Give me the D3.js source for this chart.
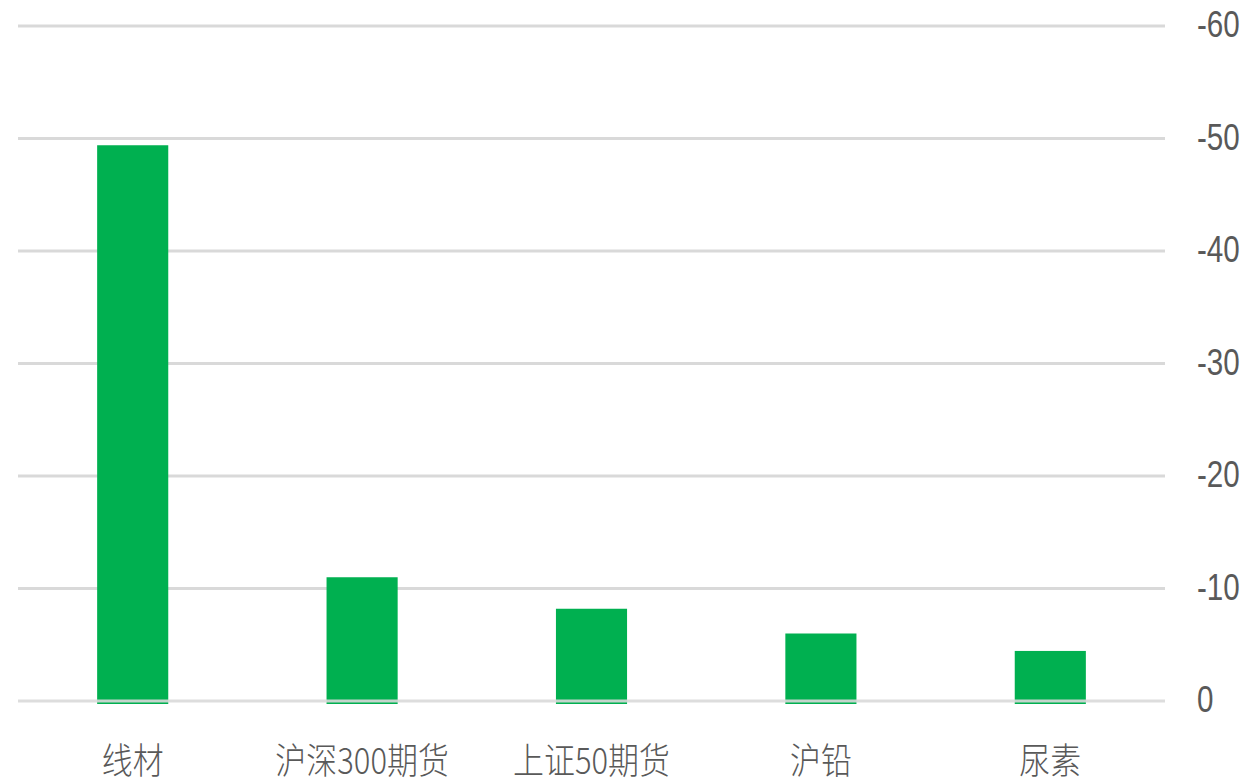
<!DOCTYPE html>
<html><head><meta charset="utf-8">
<script src="https://cdn.jsdelivr.net/npm/d3@7"></script>
<style>html,body{margin:0;padding:0;background:#fff;}svg{display:block;}</style>
</head><body>
<svg id="chart" width="1247" height="784"></svg>
<script>
const categories = ["线材", "沪深300期货", "上证50期货", "沪铅", "尿素"];
const values = [-49.4, -11.0, -8.2, -6.0, -4.45];
const tickValues = [0, -10, -20, -30, -40, -50, -60];

const svg = d3.select("#chart");
const x = d3.scaleBand().domain(categories).range([18, 1165]).paddingInner(0.69).paddingOuter(0.345);
const y = d3.scaleLinear().domain([0, -60]).range([701, 26]);

// gridlines behind bars (except zero line)
svg.append("g").selectAll("line").data(tickValues.filter(d => d !== 0)).join("line")
  .attr("x1", 18).attr("x2", 1165)
  .attr("y1", d => y(d)).attr("y2", d => y(d))
  .attr("stroke", "#d9d9d9").attr("stroke-width", 3);

svg.append("g").selectAll("rect").data(categories).join("rect")
  .attr("x", d => x(d))
  .attr("width", x.bandwidth())
  .attr("y", (d, i) => y(values[i]))
  .attr("height", (d, i) => y(0) - y(values[i]) + 3)
  .attr("fill", "#00b050");

svg.append("line")
  .attr("x1", 18).attr("x2", 1165)
  .attr("y1", y(0)).attr("y2", y(0))
  .attr("stroke", "#d9d9d9").attr("stroke-width", 3).attr("stroke-opacity", 0.9);

const yAxis = d3.axisRight(y).tickValues(tickValues).tickSize(0).tickPadding(0)
  .tickFormat(d => String(d));
const ga = svg.append("g").attr("transform", "translate(1197,0)").call(yAxis);
ga.select(".domain").remove();
ga.selectAll("text")
  .attr("x", 0).attr("dy", null).attr("dominant-baseline", "central")
  .attr("y", -2)
  .attr("fill", "#595959")
  .attr("transform", "scale(0.8,1)")
  .style("font-family", "'Liberation Sans', Arial, sans-serif")
  .style("font-size", "37px")
  .attr("text-anchor", "start");

const xAxis = d3.axisBottom(x).tickSize(0).tickPadding(0);
const gx = svg.append("g").attr("transform", "translate(0,758)").call(xAxis);
gx.select(".domain").remove();
gx.selectAll("text")
  .attr("y", 0).attr("dy", null).attr("dominant-baseline", "central")
  .attr("fill", "#595959")
  .attr("transform", "scale(0.86,1)")
  .style("font-family", "'Noto Sans CJK SC', sans-serif")
  .style("font-weight", 300)
  .style("font-size", "36px");
</script>
</body></html>
